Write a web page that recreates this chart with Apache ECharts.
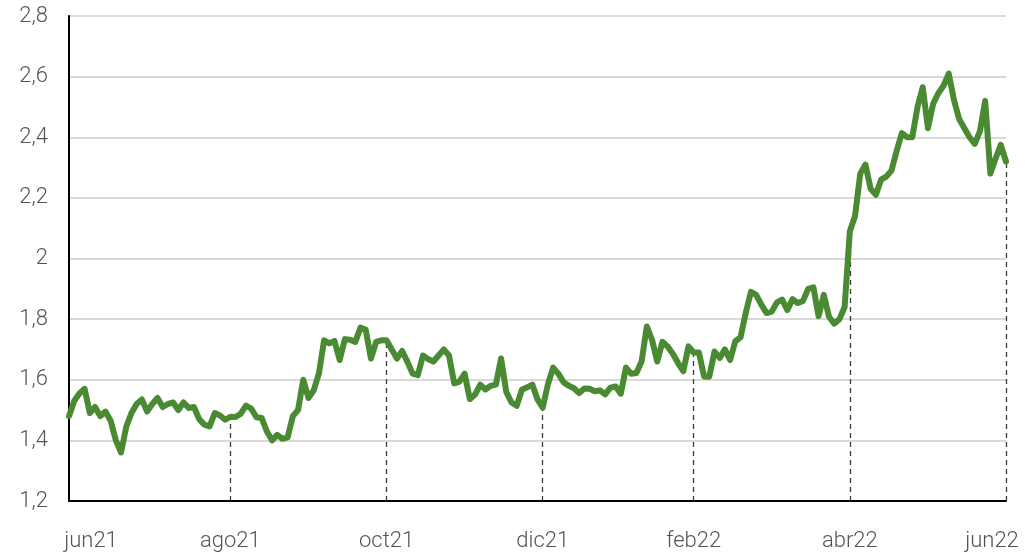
<!DOCTYPE html>
<html>
<head>
<meta charset="utf-8">
<script src="https://cdn.jsdelivr.net/npm/echarts@6/dist/echarts.min.js"></script>
<style>
html,body{margin:0;padding:0;background:#fff;}
#chart{width:1025px;height:552px;}
</style>
</head>
<body>
<div id="chart"></div>
<script>
// Tick labels and the category index at which each one sits
const tickLabels = ['jun21', 'ago21', 'oct21', 'dic21', 'feb22', 'abr22', 'jun22'];
const tickIndex = [0, 31, 61, 91, 120, 150, 180];

// Series values, one per category step
const values = [
  1.48, 1.53, 1.555, 1.57, 1.49, 1.51, 1.48, 1.495, 1.465, 1.40,
  1.36, 1.445, 1.49, 1.52, 1.535, 1.495, 1.52, 1.54, 1.51, 1.52,
  1.525, 1.50, 1.525, 1.507, 1.51, 1.47, 1.452, 1.446, 1.49, 1.482,
  1.468, 1.478, 1.477, 1.488, 1.515, 1.505, 1.476, 1.474, 1.43, 1.40,
  1.418, 1.405, 1.41, 1.48, 1.50, 1.60, 1.54, 1.565, 1.62, 1.73,
  1.72, 1.728, 1.665, 1.734, 1.732, 1.725, 1.772, 1.765, 1.67, 1.725,
  1.73, 1.73, 1.70, 1.67, 1.695, 1.66, 1.62, 1.615, 1.68, 1.668,
  1.66, 1.68, 1.70, 1.68, 1.588, 1.594, 1.62, 1.536, 1.551, 1.584,
  1.568, 1.58, 1.584, 1.67, 1.56, 1.525, 1.514, 1.567, 1.575, 1.584,
  1.535, 1.508, 1.585, 1.64, 1.62, 1.592, 1.58, 1.572, 1.556, 1.571,
  1.57, 1.562, 1.565, 1.552, 1.574, 1.578, 1.554, 1.64, 1.62, 1.622,
  1.66, 1.776, 1.732, 1.66, 1.725, 1.71, 1.686, 1.655, 1.628, 1.71,
  1.69, 1.69, 1.611, 1.61, 1.693, 1.672, 1.70, 1.665, 1.727, 1.74,
  1.82, 1.89, 1.88, 1.848, 1.82, 1.825, 1.855, 1.864, 1.83, 1.866,
  1.853, 1.86, 1.90, 1.905, 1.81, 1.88, 1.808, 1.785, 1.80, 1.84,
  2.09, 2.14, 2.28, 2.31, 2.23, 2.21, 2.26, 2.27, 2.29, 2.355,
  2.414, 2.40, 2.40, 2.50, 2.565, 2.43, 2.51, 2.545, 2.57, 2.61,
  2.523, 2.46, 2.43, 2.40, 2.378, 2.42, 2.52, 2.28, 2.33, 2.375,
  2.32
];

const yMin = 1.2, yMax = 2.8, yStep = 0.2;

const categories = values.map((v, i) => {
  const k = tickIndex.indexOf(i);
  return k >= 0 ? tickLabels[k] : String(i);
});

const labelFont = { fontFamily: 'Roboto', fontWeight: 300, fontSize: 22, color: '#555' };

const chart = echarts.init(document.getElementById('chart'), null, { renderer: 'canvas' });

const markData = tickIndex.slice(1).map(i => [
  { coord: [i, yMin] },
  { coord: [i, values[i]] }
]);

chart.setOption({
  animation: false,
  backgroundColor: '#ffffff',
  grid: { left: 69, right: 19, top: 16, bottom: 51, containLabel: false },
  xAxis: {
    type: 'category',
    data: categories,
    boundaryGap: false,
    axisLine: { show: true, lineStyle: { color: '#000', width: 2 } },
    axisTick: { show: false },
    splitLine: { show: false },
    axisLabel: Object.assign({}, labelFont, {
      margin: 29,
      interval: (idx) => tickIndex.indexOf(idx) >= 0,
      formatter: (val, idx) => {
        const k = tickIndex.indexOf(idx);
        if (k < 0) return '';
        if (k === 0) return '{first|' + tickLabels[k] + '}';
        if (k === tickLabels.length - 1) return '{last|' + tickLabels[k] + '}';
        return tickLabels[k];
      },
      rich: {
        first: Object.assign({}, labelFont, { padding: [0, 0, 0, 44] }),
        last: Object.assign({}, labelFont, { padding: [0, 28, 0, 0] })
      }
    })
  },
  yAxis: {
    type: 'value',
    min: yMin,
    max: yMax,
    interval: yStep,
    axisLine: { show: true, lineStyle: { color: '#000', width: 2 } },
    axisTick: { show: false },
    splitLine: { show: true, lineStyle: { color: '#d9d9d9', width: 2 } },
    axisLabel: Object.assign({}, labelFont, {
      margin: 21,
      formatter: (v) => String(+v.toFixed(1)).replace('.', ',')
    })
  },
  series: [
    {
      type: 'line',
      data: values,
      showSymbol: false,
      symbol: 'none',
      z: 3,
      lineStyle: { color: '#4a8a33', width: 6, join: 'round', cap: 'round' },
      markLine: {
        silent: true,
        symbol: ['none', 'none'],
        label: { show: false },
        z: 1,
        lineStyle: { color: '#3a3a3a', width: 1.3, type: [5, 4] },
        data: markData
      }
    }
  ]
});
</script>
</body>
</html>
